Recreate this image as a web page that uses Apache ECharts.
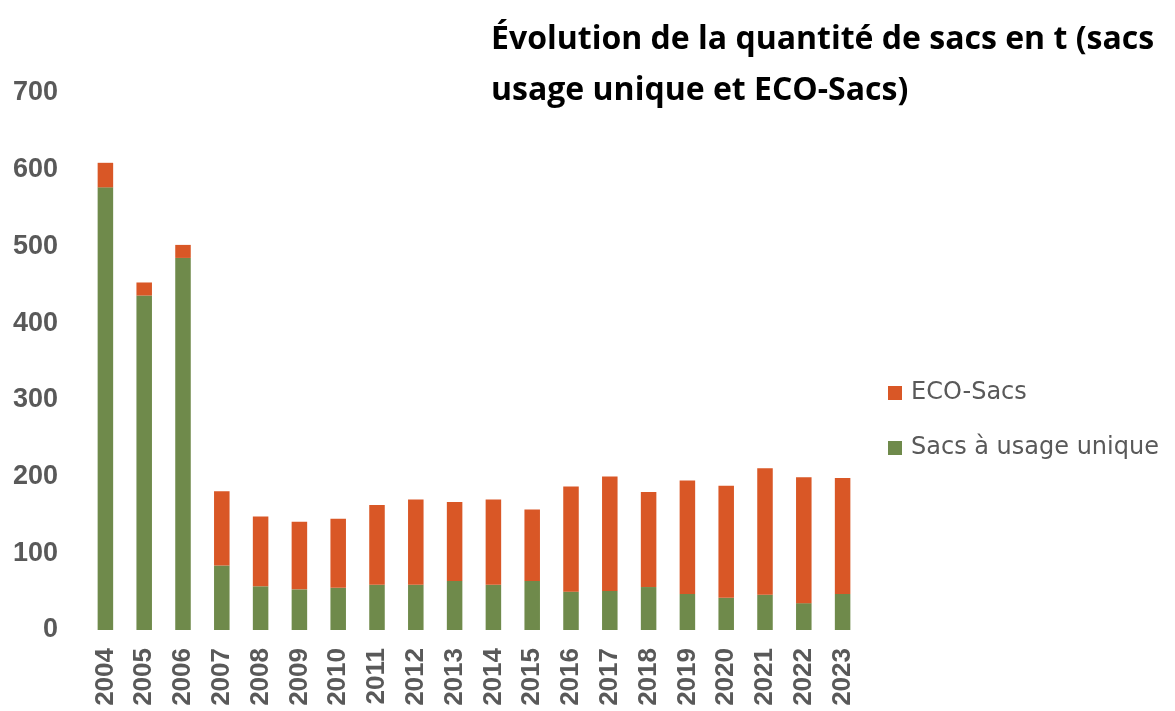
<!DOCTYPE html>
<html>
<head>
<meta charset="utf-8">
<script src="https://cdn.jsdelivr.net/npm/echarts@6/dist/echarts.min.js"></script>
<style>
  html, body { margin: 0; padding: 0; background: #fff; }
  #chart { width: 1175px; height: 711px; }
</style>
</head>
<body>
<div id="chart"></div>
<script>
// années
const years = ["2004", "2005", "2006", "2007", "2008", "2009", "2010", "2011", "2012", "2013",
  "2014", "2015", "2016", "2017", "2018", "2019", "2020", "2021", "2022", "2023"];
// sacs à usage unique (t)
const usageUnique = [577, 436, 485, 84, 57, 53, 55, 59, 59, 64,
  59, 64, 50, 51, 56, 47, 42, 46, 35, 47];
// ECO-Sacs (t)
const ecoSacs = [32, 17, 17, 97, 91, 88, 90, 104, 111, 103,
  111, 93, 137, 149, 124, 148, 146, 165, 164, 151];

const chart = echarts.init(document.getElementById("chart"));
chart.setOption({
  animation: false,
  title: {
    text: "Évolution de la quantité de sacs en t (sacs\nusage unique et ECO-Sacs)",
    left: 486,
    top: 9,
    textStyle: {
      fontFamily: "Open Sans",
      fontWeight: "bold",
      fontSize: 32,
      lineHeight: 51,
      color: "#000"
    }
  },
  legend: {
    orient: "vertical",
    left: 883,
    top: 376,
    itemWidth: 14,
    itemHeight: 14,
    itemGap: 31,
    icon: "rect",
    data: ["ECO-Sacs", "Sacs à usage unique"],
    textStyle: {
      fontFamily: "DejaVu Sans",
      fontSize: 24,
      color: "#595959",
      padding: [0, 0, 0, 4]
    }
  },
  grid: {
    left: 86,
    right: 313,
    top: 93,
    bottom: 81
  },
  xAxis: {
    type: "category",
    data: years,
    axisLine: { show: false },
    axisTick: { show: false },
    axisLabel: {
      rotate: 90,
      margin: 18,
      fontFamily: "Liberation Sans",
      fontWeight: "bold",
      fontSize: 26,
      color: "#595959"
    }
  },
  yAxis: {
    type: "value",
    min: 0,
    max: 700,
    interval: 100,
    splitLine: { show: false },
    axisLine: { show: false },
    axisTick: { show: false },
    axisLabel: {
      margin: 28,
      fontFamily: "Liberation Sans",
      fontWeight: "bold",
      fontSize: 27,
      color: "#595959"
    }
  },
  series: [
    {
      name: "Sacs à usage unique",
      type: "bar",
      stack: "total",
      barWidth: "40%",
      data: usageUnique,
      itemStyle: { color: "#6F8A4B" }
    },
    {
      name: "ECO-Sacs",
      type: "bar",
      stack: "total",
      barWidth: "40%",
      data: ecoSacs,
      itemStyle: { color: "#D95726" }
    }
  ]
});
</script>
</body>
</html>
